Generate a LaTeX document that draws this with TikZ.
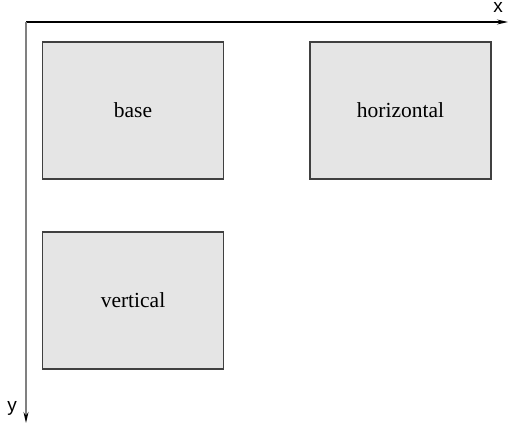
\documentclass[tikz,border=0pt]{standalone}
\usepackage{fontspec}
\setmainfont{Liberation Serif}
\newfontfamily\axfont{Liberation Sans}
\usetikzlibrary{arrows.meta}
\definecolor{boxfill}{HTML}{E5E5E5}
\definecolor{boxline}{HTML}{404040}
\definecolor{yaxis}{HTML}{808080}
\begin{document}
\begin{tikzpicture}[x=1pt,y=-1pt,
  panel/.style={draw=boxline,fill=boxfill,line width=1.1pt,minimum width=181pt,minimum height=137pt,inner sep=0pt,font=\fontsize{21.5}{25}\selectfont},
  axislabel/.style={inner sep=0pt,font=\axfont\fontsize{19}{21}\selectfont},
  axisarrow/.style={line width=1.3pt,-{Stealth[length=11pt,width=5pt,black]}}]
\useasboundingbox (0,0) rectangle (509,428);
\node[panel] (base) at (133,110.5) {base};
\node[panel] (horizontal) at (400.5,110.5) {horizontal};
\node[panel] (vertical) at (133,300.5) {vertical};
\coordinate (origin) at (26,22);
\coordinate (xend) at (508,22);
\coordinate (yend) at (26,423);
\draw[axisarrow,black] (origin) -- (xend);
\draw[axisarrow,yaxis] (origin) -- (yend);
\node[axislabel,anchor=base] (xlab) at (498,13) {x};
\node[axislabel] (ylab) at (12,408) {y};
\end{tikzpicture}
\end{document}
